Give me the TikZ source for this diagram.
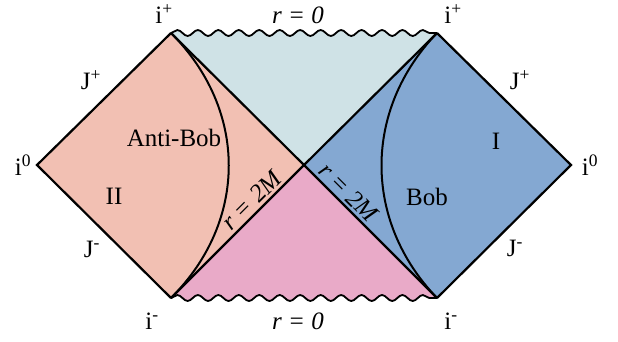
\documentclass[tikz,border=0pt]{standalone}
\usepackage{fontspec}
\setmainfont{Liberation Serif}
\usetikzlibrary{decorations.pathmorphing,positioning}
\definecolor{antired}{RGB}{242,192,179}
\definecolor{bobblue}{RGB}{132,168,210}
\definecolor{futgrey}{RGB}{207,226,230}
\definecolor{pastpink}{RGB}{233,170,200}

\begin{document}
\begin{tikzpicture}[x=1pt, y=-1pt,
  lbl/.style={font=\fontsize{25}{29}\selectfont, inner sep=1pt},
  edge/.style={line width=2.2pt, line join=miter},
  hor/.style={line width=2.2pt},
  obs/.style={line width=2pt},
  wave/.style={decoration={snake, segment length=20.46pt, amplitude=3pt}},
  sing/.style={line width=1.8pt, decorate, wave}
]
  \useasboundingbox (0,0) rectangle (618,341);

  % corners of the diagram
  \coordinate (tl) at (171,33);
  \coordinate (tr) at (437,33);
  \coordinate (bl) at (171,298);
  \coordinate (br) at (437,298);
  \coordinate (c)  at (304,165);
  \coordinate (wl) at (37,165);
  \coordinate (wr) at (571,165);

  % regions
  \fill[antired] (wl) -- (tl) -- (c) -- (bl) -- cycle;
  \fill[bobblue] (wr) -- (tr) -- (c) -- (br) -- cycle;
  \fill[futgrey, wave] (tl) decorate {-- (tr)} -- (c) -- cycle;
  \fill[pastpink, wave] (bl) decorate {-- (br)} -- (c) -- cycle;

  % boundaries
  \draw[edge] (tl) -- (wl) -- (bl);
  \draw[edge] (tr) -- (wr) -- (br);
  \draw[sing] (tl) -- (tr);
  \draw[sing] (bl) -- (br);
  \draw[hor] (tl) -- (c);
  \draw[hor] (tr) -- (c);
  \draw[hor] (bl) -- node[lbl, sloped, above, pos=0.67, inner sep=3pt] (hl) {\itshape r = 2M} (c);
  \draw[hor] (c) -- node[lbl, sloped, above, pos=0.27, inner sep=3pt] (hr) {\itshape r = 2M} (br);

  % accelerated observers
  \draw[obs] (tl) .. controls (248,110) and (248,221) .. (bl);
  \draw[obs] (tr) .. controls (363,110) and (363,221) .. (br);

  % labels
  \node[lbl] (ipl) at (164,14) {i\textsuperscript{+}};
  \node[lbl] (ipr) at (453,14) {i\textsuperscript{+}};
  \node[lbl] (iml) at (152,321) {i\textsuperscript{-}};
  \node[lbl] (imr) at (451,321) {i\textsuperscript{-}};
  \node[lbl] (rt) at (298,15) {\itshape r = 0};
  \node[lbl] (rb) at (298,321) {\itshape r = 0};
  \node[lbl] (i0l) at (23,165) {i\textsuperscript{0}};
  \node[lbl] (i0r) at (590,165) {i\textsuperscript{0}};
  \node[lbl] (jpl) at (91,80) {J\textsuperscript{+}};
  \node[lbl] (jml) at (92,249) {J\textsuperscript{-}};
  \node[lbl] (jpr) at (520,80) {J\textsuperscript{+}};
  \node[lbl] (jmr) at (515,248) {J\textsuperscript{-}};
  \node[lbl] (anti) at (174,138) {Anti-Bob};
  \node[lbl] (bob) at (427,197) {Bob};
  \node[lbl] (rII) at (114,196) {II};
  \node[lbl] (rI) at (496,141) {I};
\end{tikzpicture}
\end{document}
